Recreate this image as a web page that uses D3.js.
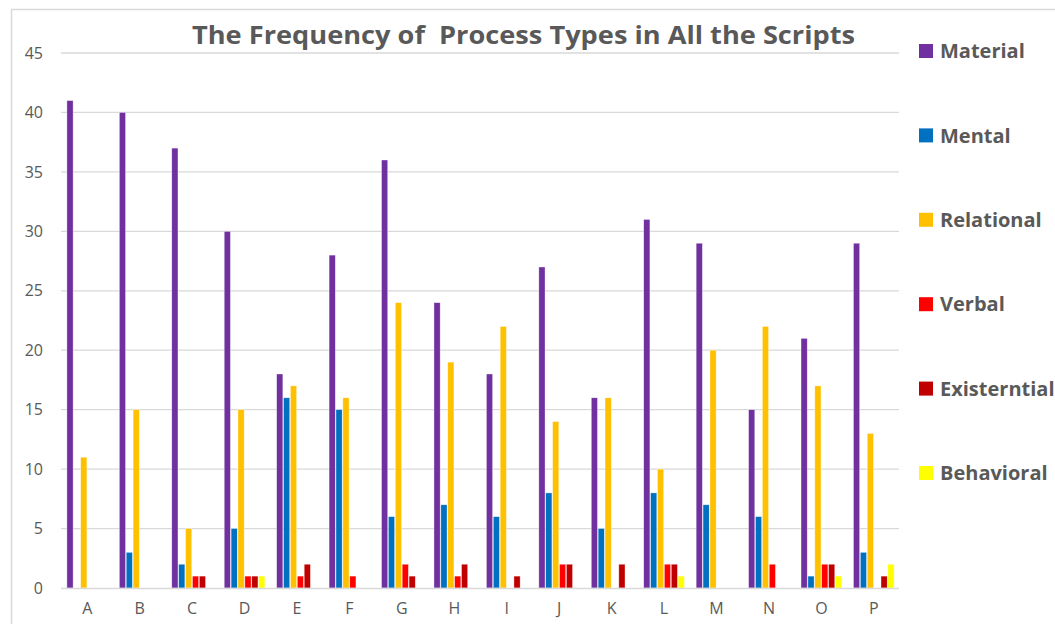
<!DOCTYPE html>
<html><head><meta charset="utf-8">
<script src="https://cdn.jsdelivr.net/npm/d3@7"></script>
<style>body{margin:0;background:#fff}svg{display:block}</style>
</head><body>
<svg id="c" width="1055" height="624"></svg>
<script>
const categories = ["A","B","C","D","E","F","G","H","I","J","K","L","M","N","O","P"];
const seriesNames = ["Material","Mental","Relational","Verbal","Existerntial","Behavioral"];
const seriesColors = ["#7030A0","#0070C0","#FFC000","#FF0000","#C00000","#FFFF00"];
const material    = [41,40,37,30,18,28,36,24,18,27,16,31,29,15,21,29];
const mental      = [0,3,2,5,16,15,6,7,6,8,5,8,7,6,1,3];
const relational  = [11,15,5,15,17,16,24,19,22,14,16,10,20,22,17,13];
const verbal      = [0,0,1,1,1,1,2,1,0,2,0,2,0,2,2,0];
const existential = [0,0,1,1,2,0,1,2,1,2,2,2,0,0,2,1];
const behavioral  = [0,0,0,1,0,0,0,0,0,0,0,1,0,0,1,2];
const yTicks = [0,5,10,15,20,25,30,35,40,45];
const title = "The Frequency of  Process Types in All the Scripts";

const series = [material, mental, relational, verbal, existential, behavioral];
const svg = d3.select("#c");
const gray = "#595959";
const font = "'Open Sans', 'Noto Sans', sans-serif";

// chart border
svg.append("rect").attr("x",11.5).attr("y",9.5).attr("width",1100).attr("height",700)
  .attr("fill","none").attr("stroke","#d9d9d9").attr("stroke-width",1.5);

const x0 = d3.scaleBand().domain(categories).range([61, 900]).paddingInner(0).paddingOuter(0);
const x1 = d3.scaleBand().domain(d3.range(6)).range([x0.bandwidth()/2 - 21, x0.bandwidth()/2 + 21]).padding(0.1);
const y = d3.scaleLinear().domain([0,45]).range([588, 53]);

// gridlines
svg.append("g").selectAll("line").data(yTicks.filter(d=>d>0)).join("line")
  .attr("x1",61).attr("x2",899).attr("y1",d=>y(d)).attr("y2",d=>y(d))
  .attr("stroke","#d9d9d9").attr("stroke-width",1.3);

// y axis labels
const yAxis = d3.axisLeft(y).tickValues(yTicks).tickSize(0).tickPadding(0);
const ya = svg.append("g").attr("transform","translate(43,0)").call(yAxis);
ya.select(".domain").remove();
ya.selectAll("text").attr("font-family",font).attr("font-size",16).attr("fill",gray);

// bars
const groups = svg.append("g").selectAll("g").data(categories).join("g")
  .attr("transform",d=>`translate(${x0(d)},0)`);
groups.selectAll("rect").data((c,i)=>series.map((s,k)=>({k, v:s[i]})).filter(d=>d.v>0)).join("rect")
  .attr("x",d=>x1(d.k)).attr("width",x1.bandwidth())
  .attr("y",d=>y(d.v)).attr("height",d=>y(0)-y(d.v))
  .attr("fill",d=>seriesColors[d.k]).attr("stroke","#ffffff").attr("stroke-opacity",0.6).attr("stroke-width",0.6);

// x axis
svg.append("line").attr("x1",61).attr("x2",899).attr("y1",588.5).attr("y2",588.5)
  .attr("stroke","#d9d9d9").attr("stroke-width",1.5);
const xAxis = d3.axisBottom(x0).tickSize(0).tickPadding(0);
const xa = svg.append("g").attr("transform","translate(0,603)").call(xAxis);
xa.select(".domain").remove();
xa.selectAll("text").attr("font-family",font).attr("font-size",16).attr("fill",gray).attr("dy","0.71em");

// title
svg.append("text").attr("x",523.5).attr("y",44).attr("text-anchor","middle")
  .attr("font-family",font).attr("font-weight","bold").attr("font-size",25).attr("fill",gray)
  .attr("textLength",663).attr("lengthAdjust","spacingAndGlyphs")
  .style("white-space","pre").text(title);

// legend
const lg = svg.append("g").selectAll("g").data(seriesNames).join("g")
  .attr("transform",(d,i)=>`translate(919,${51 + i*84.4})`);
lg.append("rect").attr("x",0).attr("y",-7).attr("width",14).attr("height",14)
  .attr("fill",(d,i)=>seriesColors[i]);
lg.append("text").attr("x",21).attr("y",0).attr("dy","0.36em")
  .attr("font-family",font).attr("font-weight","bold").attr("font-size",20).attr("fill",gray)
  .text(d=>d);
</script>
</body></html>
